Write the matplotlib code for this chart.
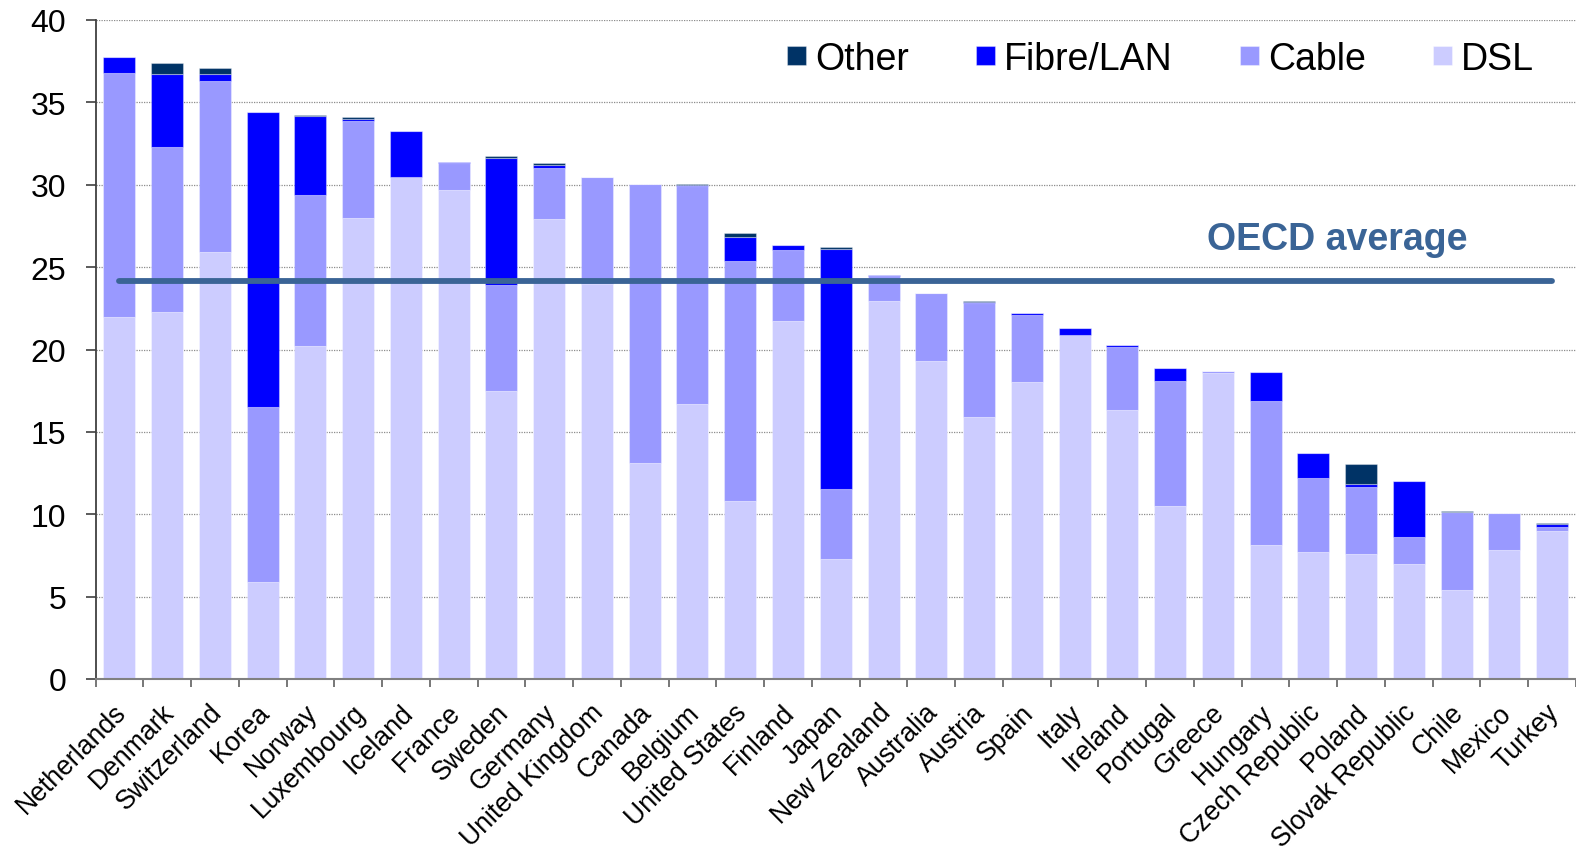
import matplotlib
matplotlib.use("Agg")
import matplotlib.pyplot as plt
import matplotlib.transforms as mtransforms
import numpy as np

plt.rcParams['font.family'] = ['Liberation Sans', 'DejaVu Sans']

countries = ["Netherlands", "Denmark", "Switzerland", "Korea", "Norway", "Luxembourg",
             "Iceland", "France", "Sweden", "Germany", "United Kingdom", "Canada",
             "Belgium", "United States", "Finland", "Japan", "New Zealand", "Australia",
             "Austria", "Spain", "Italy", "Ireland", "Portugal", "Greece", "Hungary",
             "Czech Republic", "Poland", "Slovak Republic", "Chile", "Mexico", "Turkey"]

dsl = [22.0, 22.3, 25.9, 5.9, 20.2, 28.0, 30.5, 29.7, 17.5, 27.9, 24.0, 13.1, 16.7,
       10.8, 21.75, 7.3, 22.95, 19.3, 15.9, 18.0, 20.85, 16.35, 10.5, 18.6, 8.15,
       7.7, 7.6, 7.0, 5.4, 7.8, 9.0]
cable = [14.8, 10.0, 10.4, 10.6, 9.2, 5.85, 0.0, 1.6, 6.4, 3.1, 6.5, 16.95, 13.25,
         14.6, 4.3, 4.25, 1.5, 4.1, 6.95, 4.1, 0.0, 3.83, 7.6, 0.1, 8.7,
         4.5, 4.05, 1.6, 4.75, 2.25, 0.25]
fibre = [0.95, 4.4, 0.4, 17.9, 4.75, 0.15, 2.75, 0.1, 7.75, 0.2, 0.0, 0.0, 0.05,
         1.4, 0.3, 14.55, 0.05, 0.05, 0.06, 0.1, 0.45, 0.12, 0.75, 0.0, 1.8,
         1.5, 0.17, 3.4, 0.0, 0.0, 0.15]
other = [0.0, 0.7, 0.37, 0.0, 0.1, 0.1, 0.0, 0.0, 0.1, 0.1, 0.0, 0.0, 0.05,
         0.27, 0.0, 0.15, 0.0, 0.0, 0.06, 0.0, 0.0, 0.0, 0.0, 0.0, 0.0,
         0.0, 1.24, 0.0, 0.06, 0.05, 0.05]
oecd_average = 24.18
yticks = [0, 5, 10, 15, 20, 25, 30, 35, 40]

c_dsl = '#CCCCFF'
c_cable = '#9999FF'
c_fibre = '#0000FF'
c_other = '#003366'

fig = plt.figure(figsize=(15.76, 8.54), dpi=100)
ax = fig.add_axes([95.5 / 1576, 1 - 680 / 854, 1 - 95.5 / 1576, (680 - 21) / 854])

x = np.arange(len(countries))
w = 0.67
d = np.array(dsl); c = np.array(cable); f = np.array(fibre); o = np.array(other)
edge = dict(edgecolor=(1, 1, 1, 0.35), linewidth=0.8)
b_dsl = ax.bar(x, d, w, color=c_dsl, zorder=2, **edge)
b_cab = ax.bar(x, c, w, bottom=d, color=c_cable, zorder=2, **edge)
b_fib = ax.bar(x, f, w, bottom=d + c, color=c_fibre, zorder=2, **edge)
b_oth = ax.bar(x, o, w, bottom=d + c + f, color=c_other, zorder=2, **edge)

ax.plot([x[0], x[-1]], [oecd_average, oecd_average], color='#3A6496', lw=4.2,
        solid_capstyle='round', zorder=3)
ax.text(25.5, 26.7, "OECD average", color='#3A6496', fontsize=27, fontweight='bold',
        ha='center', va='center')

ax.set_xlim(-0.5, len(countries) - 0.5)
ax.set_ylim(0, 40)
ax.set_yticks(yticks)
ax.yaxis.grid(True, linestyle=(0, (1, 1)), color='#8c8c8c', linewidth=0.9)
ax.set_axisbelow(True)
ax.tick_params(axis='y', labelsize=23, length=7, width=1.2, color='#404040', pad=14)

ax.set_xticks(x)
ax.set_xticklabels(countries, rotation=45, ha='right', va='center',
                   rotation_mode='anchor', fontsize=19.2)
ax.tick_params(axis='x', which='major', length=0, pad=21)
ax.set_xticks(np.arange(len(countries) + 1) - 0.5, minor=True)
ax.tick_params(axis='x', which='minor', length=6, width=1.2, color='#606060')
offset = mtransforms.ScaledTranslation(3 / 100, 0, fig.dpi_scale_trans)
for lbl in ax.get_xticklabels():
    lbl.set_transform(lbl.get_transform() + offset)

for s in ['top', 'right']:
    ax.spines[s].set_visible(False)
ax.spines['left'].set_color('#404040')
ax.spines['left'].set_linewidth(1.3)
ax.spines['bottom'].set_color('#808080')
ax.spines['bottom'].set_linewidth(1.5)

leg = ax.legend([b_oth, b_fib, b_cab, b_dsl], ["Other", "Fibre/LAN", "Cable", "DSL"],
                ncol=4, loc='upper right', bbox_to_anchor=(1534 / 1576, 1 - 42 / 854),
                bbox_transform=fig.transFigure, frameon=False, fontsize=27,
                handlelength=0.5, handleheight=0.39, handletextpad=0.25,
                columnspacing=1.79, borderpad=0, borderaxespad=0)

fig.savefig("out.png", dpi=100)
